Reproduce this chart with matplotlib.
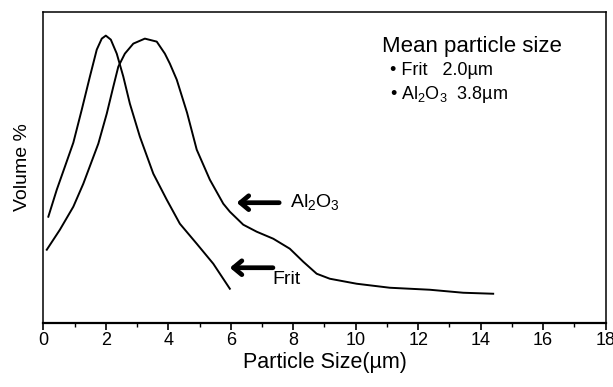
import matplotlib
matplotlib.use("Agg")
import matplotlib.pyplot as plt

plt.rcParams['font.family'] = ['Liberation Sans', 'DejaVu Sans']
plt.rcParams['mathtext.fontset'] = 'custom'
plt.rcParams['mathtext.rm'] = 'Liberation Sans'
plt.rcParams['mathtext.it'] = 'Liberation Sans'
plt.rcParams['mathtext.default'] = 'regular'

# particle size (um) vs volume % (arbitrary units)
frit_x = [0.16, 0.43, 0.69, 0.96, 1.23, 1.49, 1.71, 1.87, 2.0, 2.16, 2.35, 2.56, 2.77,
          3.09, 3.52, 3.95, 4.37, 4.91, 5.44, 5.97]
frit_y = [106, 133, 156, 180, 213, 246, 273, 284, 287, 283, 269, 246, 219,
          186, 149, 123, 99, 79, 59, 34]

al_x = [0.11, 0.53, 0.96, 1.28, 1.76, 2.03, 2.24, 2.4, 2.61, 2.88, 3.25, 3.63, 3.89,
        4.05, 4.27, 4.6, 4.91, 5.33, 5.76, 5.97, 6.4, 6.83, 7.36, 7.89, 8.32, 8.75,
        9.17, 10.03, 11.09, 12.37, 13.44, 14.4]
al_y = [73, 93, 116, 139, 179, 209, 236, 256, 269, 279, 284, 281, 269,
        259, 243, 210, 173, 143, 119, 111, 98, 91, 84, 74, 61, 49,
        44, 39, 35, 33, 30, 29]

xticks = [0, 2, 4, 6, 8, 10, 12, 14, 16, 18]

fig = plt.figure(figsize=(6.13, 3.87), dpi=100)
ax = fig.add_axes([0.0707, 0.166, 0.9173, 0.804])

ax.plot(frit_x, frit_y, color='black', lw=1.4, solid_joinstyle='round')
ax.plot(al_x, al_y, color='black', lw=1.4, solid_joinstyle='round')

ax.set_xlim(0, 18)
ax.set_ylim(0, 311)
ax.set_xticks(xticks)
ax.set_xticks(range(1, 18, 2), minor=True)
ax.set_yticks([])
ax.tick_params(axis='x', which='major', direction='out', length=5, width=1.2, labelsize=13, pad=2)
ax.tick_params(axis='x', which='minor', direction='out', length=3, width=1.0)
for s in ax.spines.values():
    s.set_linewidth(1.1)
ax.spines['bottom'].set_linewidth(1.6)

ax.set_xlabel('Particle Size(\u00b5m)', fontsize=15.5, labelpad=2)
ax.set_ylabel('Volume %', fontsize=14, labelpad=9)

# arrows pointing at the curves
arr = dict(arrowstyle='->,head_length=0.6,head_width=0.5', lw=3.4, color='black', shrinkA=0, shrinkB=0)
ax.annotate('', xy=(6.19, 120), xytext=(7.55, 120), arrowprops=arr)
ax.annotate('', xy=(5.97, 55), xytext=(7.35, 55), arrowprops=arr)
ax.text(7.9, 121, r'$Al_2O_3$', fontsize=14, va='center', ha='left')
ax.text(7.34, 43, 'Frit', fontsize=14, va='center', ha='left')

ax.text(10.83, 276, 'Mean particle size', fontsize=16, va='center', ha='left')
ax.text(11.1, 252, '\u2022 Frit   2.0\u00b5m', fontsize=13, va='center', ha='left')
ax.text(11.1, 228, '\u2022 Al$_2$O$_3$  3.8\u00b5m', fontsize=13, va='center', ha='left')

fig.savefig('out.png', dpi=100)
